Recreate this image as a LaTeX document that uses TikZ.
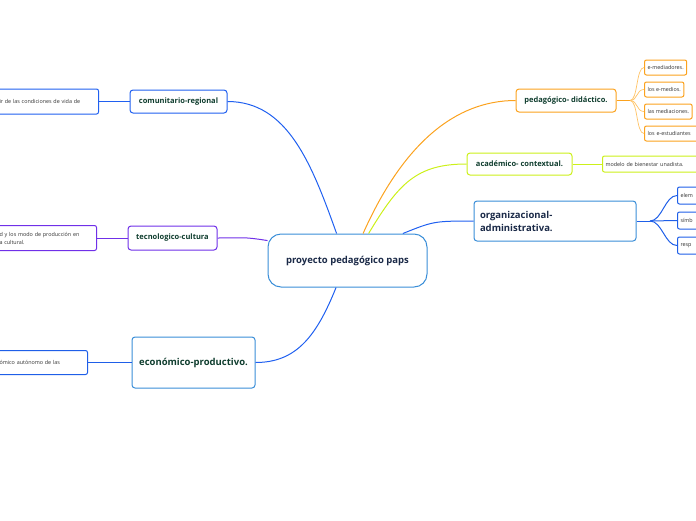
\documentclass[tikz,border=0pt]{standalone}
\usepackage{fontspec}
\setmainfont{Open Sans}

\definecolor{commblue}{HTML}{2060F0}
\definecolor{tecpurple}{HTML}{7030E8}
\definecolor{boxblue}{HTML}{3A8ED8}
\definecolor{leafblue}{HTML}{1F5FE8}
\definecolor{pedorange}{HTML}{FBA21E}
\definecolor{pedlight}{HTML}{FFC366}
\definecolor{acadyellow}{HTML}{CCF01A}
\definecolor{topictext}{HTML}{0F3D2E}
\definecolor{navytext}{HTML}{1B2A48}
\definecolor{leaftext}{HTML}{333333}

\tikzset{
  topicbox/.style={draw, rounded corners=3pt, line width=1pt, fill=white, text=topictext,
    font=\bfseries\fontsize{7.5}{9}\selectfont, inner sep=2pt},
  bigbox/.style={topicbox, text=navytext, font=\bfseries\fontsize{9.5}{13}\selectfont},
  leafbox/.style={draw, rounded corners=2pt, line width=1pt, fill=white, text=leaftext,
    font=\fontsize{5.4}{8}\selectfont, inner xsep=3pt, inner ysep=2pt, align=left},
  link/.style={line width=1pt},
  leaflink/.style={line width=0.7pt},
}

\begin{document}
\begin{tikzpicture}[x=1pt,y=-1pt]
    \useasboundingbox (0,0) rectangle (696,520);
    \clip (0,0) rectangle (696,520);

    % centre
    \node[bigbox, draw=boxblue, rounded corners=13pt, minimum width=159pt, minimum height=53pt] (central) at (347.5,260.5) {proyecto pedagógico paps};

    % left side
    \node[topicbox, draw=commblue, minimum width=97pt, minimum height=23pt] (comm) at (178.5,101.5) {comunitario-regional};
    \node[topicbox, draw=tecpurple, minimum width=89pt, minimum height=24pt] (tec) at (172.5,238) {tecnologico-cultura};
    \node[bigbox, text=topictext, draw=boxblue, minimum width=123pt, minimum height=51pt] (econ) at (193.5,362.5) {económico-productivo.};

    \node[leafbox, draw=commblue, anchor=east, text width=96pt, minimum height=25pt] (commleaf) at (99,101.5) {ir de las condiciones de vida de\\[1pt]};
    \node[leafbox, draw=tecpurple, anchor=east, text width=94pt, minimum height=25pt] (tecleaf) at (97,238) {d y los modo de producción en\\a cultural.};
    \node[leafbox, draw=leafblue, anchor=east, text width=85pt, minimum height=24pt] (econleaf) at (88,362.5) {ómico autónomo de las\\[1pt]};

    % right side
    \node[topicbox, draw=pedorange, minimum width=100pt, minimum height=23pt] (ped) at (566,100.5) {pedagógico- didáctico.};
    \node[topicbox, draw=acadyellow, minimum width=105pt, minimum height=22pt] (acad) at (519.5,164) {académico- contextual.};
    \node[bigbox, draw=boxblue, align=left, text width=150pt, inner xsep=6pt, minimum height=40pt] (org) at (555,221) {organizacional-\\administrativa.};

    \node[leafbox, draw=pedorange, anchor=west, minimum height=15pt] (pedleafa) at (644,67.5) {e-mediadores.};
    \node[leafbox, draw=pedorange, anchor=west, minimum height=15pt] (pedleafb) at (644,89.5) {los e-medios.};
    \node[leafbox, draw=pedorange, anchor=west, minimum height=15pt] (pedleafc) at (644,111.5) {las mediaciones.};
    \node[leafbox, draw=pedorange, anchor=west, text width=60pt, minimum height=15pt] (pedleafd) at (644,133.5) {los e-estudiantes};

    \node[leafbox, draw=acadyellow, anchor=west, text width=100pt, minimum height=16pt] (acadleaf) at (602,164) {modelo de bienestar unadista.};

    \node[leafbox, draw=leafblue, anchor=west, text width=40pt, minimum height=17pt] (orgleafa) at (677,195.5) {elem};
    \node[leafbox, draw=leafblue, anchor=west, text width=40pt, minimum height=17pt] (orgleafb) at (677,220.5) {símb};
    \node[leafbox, draw=leafblue, anchor=west, text width=40pt, minimum height=17pt] (orgleafc) at (677,245.5) {resp};

    % links from the centre
    \draw[link, commblue] (central.112) .. controls +(-25,-70) and +(60,0) .. (comm.east);
    \draw[link, tecpurple] (central.166) .. controls +(-25,-4) and +(25,0) .. (tec.east);
    \draw[link, commblue] (central.247) .. controls +(-20,50) and +(40,0) .. (econ.east);
    \draw[link, pedorange] (central.60) .. controls +(40,-90) and +(-60,0) .. (ped.west);
    \draw[link, acadyellow] (central.52) .. controls +(30,-50) and +(-50,0) .. (acad.west);
    \draw[link, commblue] (central.26) .. controls +(30,-12) and +(-40,0) .. (org.west);

    % links to the leaves
    \draw[link, commblue] (comm.west) -- (commleaf.east);
    \draw[link, tecpurple] (tec.west) -- (tecleaf.east);
    \draw[link, leafblue] (econ.west) -- (econleaf.east);
    \draw[link, acadyellow] (acad.east) -- (acadleaf.west);

    \coordinate (pedfork) at (630,100.5);
    \draw[link, pedorange] (ped.east) -- (pedfork);
    \foreach \leaf in {pedleafa,pedleafb,pedleafc,pedleafd}
        \draw[leaflink, pedlight] (pedfork) .. controls +(8,0) and +(-8,0) .. (\leaf.west);

    \coordinate (orgfork) at (650,221);
    \draw[link, leafblue] (org.east) -- (orgfork);
    \foreach \leaf in {orgleafa,orgleafb,orgleafc}
        \draw[link, leafblue] (orgfork) .. controls +(12,0) and +(-12,0) .. (\leaf.west);

\end{tikzpicture}
\end{document}
